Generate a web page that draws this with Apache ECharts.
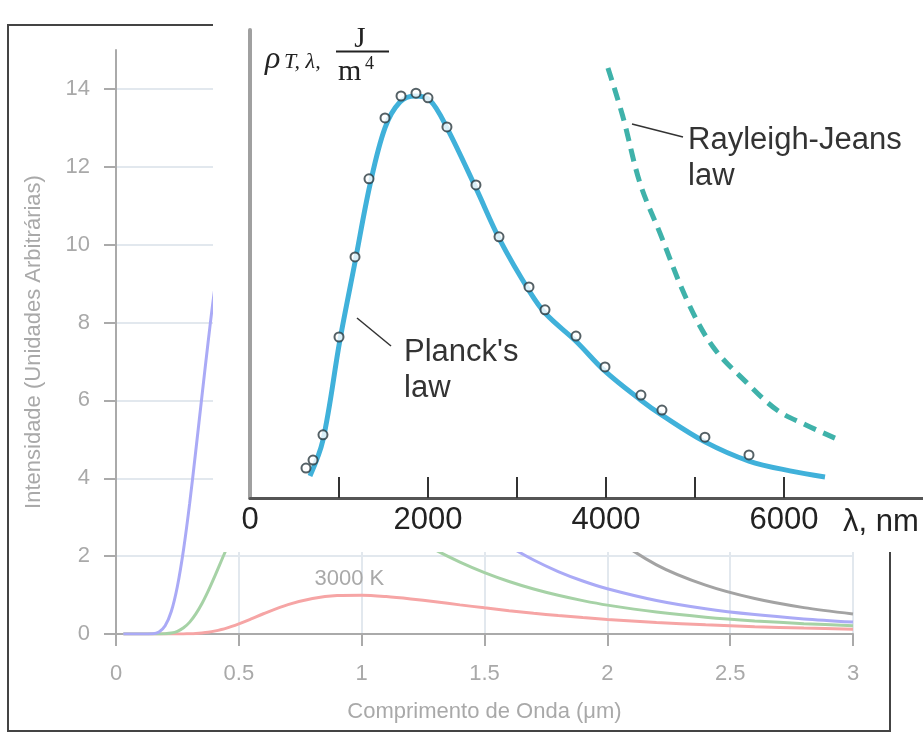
<!DOCTYPE html>
<html>
<head>
<meta charset="utf-8">
<script src="https://cdn.jsdelivr.net/npm/echarts@6/dist/echarts.min.js"></script>
<style>
html,body{margin:0;padding:0;background:#fff;}
#chart{width:923px;height:732px;}
</style>
</head>
<body>
<div id="chart"></div>
<script>
// ---------- main chart data (wavelength in μm, intensity in arbitrary units) ----------
var lambdaUm = [0.03, 0.1, 0.15, 0.175, 0.2, 0.225, 0.25, 0.275, 0.3, 0.325, 0.35, 0.375, 0.4, 0.45, 0.5, 0.55, 0.6, 0.7, 0.8, 0.9, 1.0, 1.1, 1.2, 1.3, 1.4, 1.5, 1.6, 1.7, 1.8, 1.9, 2.0, 2.2, 2.4, 2.6, 2.8, 3.0];
var i3000K = [0, 0, 0, 0, 0, 0, 0.001, 0.002, 0.006, 0.013, 0.026, 0.045, 0.073, 0.152, 0.262, 0.388, 0.52, 0.754, 0.913, 0.988, 0.997, 0.962, 0.901, 0.827, 0.748, 0.672, 0.600, 0.534, 0.474, 0.421, 0.374, 0.296, 0.236, 0.189, 0.153, 0.125];
var i4000K = [0, 0, 0, 0.001, 0.006, 0.024, 0.069, 0.159, 0.305, 0.516, 0.782, 1.10, 1.453, 2.19, 2.876, 3.44, 3.845, 4.20, 4.12, 3.80, 3.37, 2.94, 2.53, 2.16, 1.847, 1.577, 1.348, 1.155, 0.994, 0.857, 0.742, 0.563, 0.432, 0.337, 0.266, 0.213];
var i5000K = [0, 0, 0.007, 0.053, 0.211, 0.577, 1.227, 2.17, 3.36, 4.72, 6.12, 7.50, 8.78, 10.86, 12.17, 12.77, 12.83, 11.87, 10.30, 8.64, 7.13, 5.86, 4.81, 3.96, 3.27, 2.71, 2.26, 1.90, 1.605, 1.362, 1.163, 0.861, 0.649, 0.498, 0.388, 0.306];
var iRJ5000K = [null, null, null, null, null, null, null, null, null, null, null, null, null, null, null, null, null, null, null, 63.4, 41.6, 28.4, 20.06, 14.57, 10.83, 8.22, 6.35, 4.98, 3.96, 3.19, 2.60, 1.776, 1.254, 0.910, 0.677, 0.514];
var yTicks = [0, 2, 4, 6, 8, 10, 12, 14];
var peakLabel = '3000 K';
var peakLabelAt = [0.95, 1.0];

// ---------- inset data (wavelength in nm, ρ in arbitrary units) ----------
var planckNm = [674, 820, 1011, 1180, 1348, 1517, 1685, 1854, 2022, 2213, 2539, 2809, 3146, 3326, 3663, 3989, 4393, 4629, 5112, 5607, 6067, 6461];
var planckRho = [0.47, 1.24, 3.38, 5.04, 6.69, 7.91, 8.46, 8.59, 8.50, 7.91, 6.62, 5.51, 4.40, 3.93, 3.35, 2.71, 2.09, 1.77, 1.20, 0.79, 0.58, 0.45];
var measNm = [629, 708, 820, 1000, 1180, 1337, 1517, 1697, 1865, 2000, 2213, 2539, 2798, 3135, 3315, 3663, 3989, 4393, 4629, 5112, 5607];
var measRho = [0.64, 0.81, 1.35, 3.44, 5.15, 6.82, 8.12, 8.59, 8.65, 8.55, 7.93, 6.69, 5.58, 4.51, 4.02, 3.46, 2.80, 2.20, 1.88, 1.30, 0.92];
var rjNm = [4022, 4191, 4382, 4607, 4910, 5202, 5584, 5921, 6247, 6573];
var rjRho = [9.19, 8.14, 6.73, 5.66, 4.23, 3.23, 2.46, 1.88, 1.56, 1.28];
var insetTicks = [1000, 2000, 3000, 4000, 5000, 6000];
var insetLabels = [0, 2000, 4000, 6000];

function pairs(xs, ys) { return xs.map(function (x, i) { return [x, ys[i]]; }); }

var FONT = 'Liberation Sans, Arial, sans-serif';
var SERIF = 'Liberation Serif, DejaVu Serif, serif';
var grey = '#a9a9a9';

var chart = echarts.init(document.getElementById('chart'));
var option = {
  animation: false,
  backgroundColor: '#fff',
  textStyle: { fontFamily: FONT },
  grid: [
    { left: 116, top: 50, right: 70, bottom: 98 },
    { left: 250, top: 30, width: 672.8, height: 468, z: 60 }
  ],
  xAxis: [
    {
      type: 'value', gridIndex: 0, min: 0, max: 3, interval: 0.5,
      name: 'Comprimento de Onda (μm)', nameLocation: 'middle', nameGap: 67,
      nameTextStyle: { color: grey, fontSize: 22, fontFamily: FONT },
      axisLine: { lineStyle: { color: '#aaa', width: 2 } },
      axisTick: { length: 12, lineStyle: { color: '#aaa', width: 2 } },
      axisLabel: { color: grey, fontSize: 22, margin: 29, fontFamily: FONT },
      splitLine: { show: true, lineStyle: { color: '#e2e8ee', width: 2 } }
    },
    {
      type: 'value', gridIndex: 1, min: 0, max: 7560, interval: 1000, z: 60,
      axisLine: { lineStyle: { color: '#555', width: 3 } },
      axisTick: { inside: true, length: 21, customValues: insetTicks, lineStyle: { color: '#333', width: 2 } },
      axisLabel: { customValues: insetLabels, formatter: function (v) { return String(v); }, color: '#222', fontSize: 31, margin: 7, fontFamily: FONT },
      splitLine: { show: false }
    }
  ],
  yAxis: [
    {
      type: 'value', gridIndex: 0, min: 0, max: 15, interval: 2,
      name: 'Intensidade (Unidades Arbitrárias)', nameLocation: 'middle', nameGap: 71,
      nameTextStyle: { color: grey, fontSize: 22, fontFamily: FONT },
      axisLine: { show: true, lineStyle: { color: '#aaa', width: 2 } },
      axisTick: { show: true, length: 12, customValues: yTicks, lineStyle: { color: '#aaa', width: 2 } },
      axisLabel: { customValues: yTicks, color: grey, fontSize: 22, margin: 26, fontFamily: FONT },
      splitLine: { show: true, lineStyle: { color: '#e2e8ee', width: 2 } }
    },
    {
      type: 'value', gridIndex: 1, min: 0, max: 10, z: 60,
      axisLine: { show: true, lineStyle: { color: '#a0a0a0', width: 4 } },
      axisTick: { show: false },
      axisLabel: { show: false },
      splitLine: { show: false }
    }
  ],
  series: [
    {
      type: 'line', xAxisIndex: 0, yAxisIndex: 0, data: pairs(lambdaUm, i3000K),
      showSymbol: false, smooth: 0.3, lineStyle: { color: '#f6a5a5', width: 3 }, itemStyle: { color: '#f6a5a5' },
      markPoint: {
        symbol: 'circle', symbolSize: 1, itemStyle: { color: 'rgba(0,0,0,0)' },
        label: { show: true, position: 'top', distance: 5, formatter: peakLabel, color: grey, fontSize: 22, fontFamily: FONT },
        data: [{ coord: peakLabelAt }]
      }
    },
    {
      type: 'line', xAxisIndex: 0, yAxisIndex: 0, data: pairs(lambdaUm, i4000K),
      showSymbol: false, smooth: 0.3, lineStyle: { color: '#a6d2a6', width: 3 }, itemStyle: { color: '#a6d2a6' }
    },
    {
      type: 'line', xAxisIndex: 0, yAxisIndex: 0, data: pairs(lambdaUm, i5000K),
      showSymbol: false, smooth: 0.3, lineStyle: { color: '#aaaaf6', width: 3 }, itemStyle: { color: '#aaaaf6' }
    },
    {
      type: 'line', xAxisIndex: 0, yAxisIndex: 0, data: pairs(lambdaUm, iRJ5000K),
      showSymbol: false, smooth: 0.3, lineStyle: { color: '#a3a3a3', width: 3 }, itemStyle: { color: '#a3a3a3' }
    },
    {
      type: 'line', xAxisIndex: 1, yAxisIndex: 1, z: 62, data: pairs(planckNm, planckRho),
      showSymbol: false, smooth: 0.35, lineStyle: { color: '#40b1da', width: 5 }, itemStyle: { color: '#40b1da' }
    },
    {
      type: 'line', xAxisIndex: 1, yAxisIndex: 1, z: 62, data: pairs(rjNm, rjRho),
      showSymbol: false, smooth: 0.35, lineStyle: { color: '#3fb2aa', width: 5, type: [13, 8] }, itemStyle: { color: '#3fb2aa' }
    },
    {
      type: 'scatter', xAxisIndex: 1, yAxisIndex: 1, z: 64, data: pairs(measNm, measRho),
      symbol: 'emptyCircle', symbolSize: 9,
      itemStyle: { color: '#2b3a40', borderColor: '#2b3a40', borderWidth: 1.6 }
    }
  ],
  graphic: [
    { type: 'rect', z: 1, shape: { x: 8, y: 25, width: 882, height: 706 }, style: { fill: 'none', stroke: '#444', lineWidth: 2 } },
    { type: 'rect', z: 50, shape: { x: 213, y: 0, width: 710, height: 552 }, style: { fill: '#fff' } },
    { type: 'text', z: 70, x: 843, y: 522, style: { text: 'λ, nm', fill: '#222', font: '31px ' + FONT, textVerticalAlign: 'middle' } },
    { type: 'text', z: 70, x: 404, y: 334, style: { text: "Planck's\nlaw", fill: '#333', font: '31px ' + FONT, lineHeight: 36 } },
    { type: 'text', z: 70, x: 688, y: 122, style: { text: 'Rayleigh-Jeans\nlaw', fill: '#333', font: '31px ' + FONT, lineHeight: 36 } },
    { type: 'line', z: 70, shape: { x1: 357, y1: 318, x2: 391, y2: 346 }, style: { stroke: '#333', lineWidth: 1.5 } },
    { type: 'line', z: 70, shape: { x1: 632, y1: 124, x2: 683, y2: 137 }, style: { stroke: '#333', lineWidth: 1.5 } },
    { type: 'text', z: 70, x: 265, y: 44, style: { text: 'ρ', fill: '#222', font: 'italic 32px ' + SERIF } },
    { type: 'text', z: 70, x: 284, y: 51, style: { text: 'T, λ,', fill: '#222', font: 'italic 22px ' + SERIF } },
    { type: 'text', z: 70, x: 360, y: 25, style: { text: 'J', fill: '#222', font: '29px ' + SERIF, textAlign: 'center' } },
    { type: 'line', z: 70, shape: { x1: 336, y1: 51.5, x2: 389, y2: 51.5 }, style: { stroke: '#222', lineWidth: 2 } },
    { type: 'text', z: 70, x: 338, y: 57, style: { text: 'm', fill: '#222', font: '30px ' + SERIF } },
    { type: 'text', z: 70, x: 365, y: 55, style: { text: '4', fill: '#222', font: '18px ' + SERIF } }
  ]
};
chart.setOption(option);
</script>
</body>
</html>
